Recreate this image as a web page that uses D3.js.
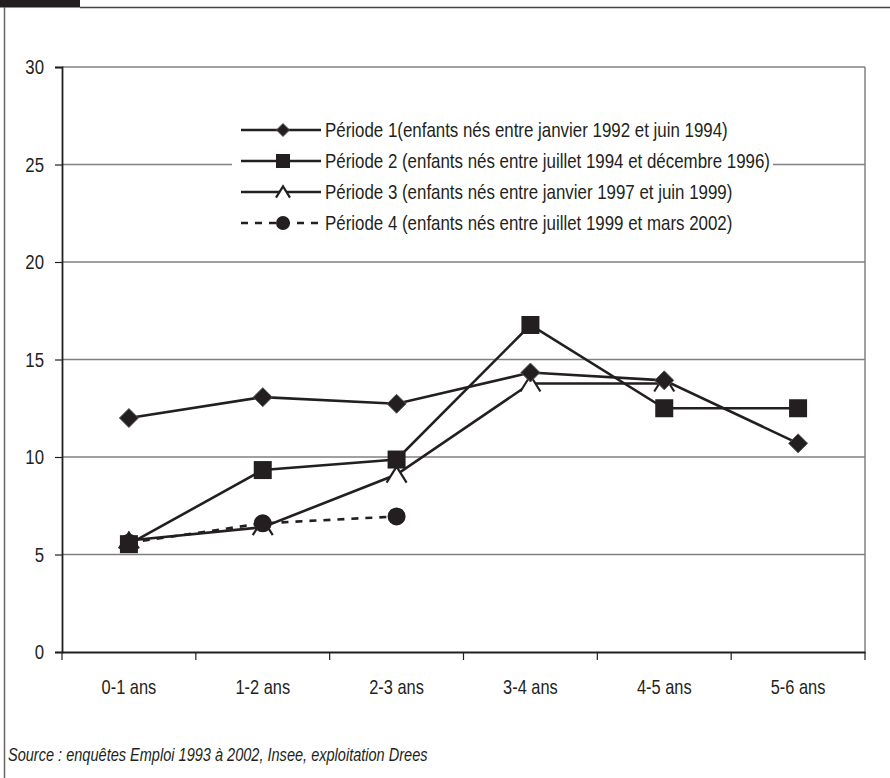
<!DOCTYPE html>
<html>
<head>
<meta charset="utf-8">
<script src="https://cdn.jsdelivr.net/npm/d3@7"></script>
<style>
  html, body { margin: 0; padding: 0; background: #fff; }
  svg { display: block; }
  text { font-family: "Liberation Sans", Arial, sans-serif; fill: #231f20; }
</style>
</head>
<body>
<svg id="chart" width="890" height="778"></svg>
<script>
// ---- Data ----
const categories = ["0-1 ans", "1-2 ans", "2-3 ans", "3-4 ans", "4-5 ans", "5-6 ans"];
const seriesNames = [
  "Période 1(enfants nés entre janvier 1992 et juin 1994)",
  "Période 2 (enfants nés entre juillet 1994 et décembre 1996)",
  "Période 3 (enfants nés entre janvier 1997 et juin 1999)",
  "Période 4 (enfants nés entre juillet 1999 et mars 2002)"
];
const periode1 = [12.0, 13.07, 12.73, 14.33, 13.93, 10.7];
const periode2 = [5.53, 9.33, 9.87, 16.77, 12.5, 12.5];
const periode3 = [5.72, 6.4, 9.1, 13.77, 13.77, null];
const periode4 = [5.6, 6.6, 6.95, null, null, null];
const yTicks = [0, 5, 10, 15, 20, 25, 30];
const sourceText = "Source : enquêtes Emploi 1993 à 2002, Insee, exploitation Drees";

const ink = "#231f20";
const K = 0.8; // narrow-font emulation for axis labels
const svg = d3.select("#chart");

function narrow(sel, k) {
  sel.each(function () {
    const t = d3.select(this);
    const tx = +t.attr("x") || 0, ty = +t.attr("y") || 0;
    t.attr("x", 0).attr("y", 0).attr("transform", `translate(${tx},${ty}) scale(${k},1)`);
  });
}

// Frame
svg.append("rect").attr("x", 0).attr("y", 0).attr("width", 80).attr("height", 7.5).attr("fill", ink);
svg.append("line").attr("x1", 80).attr("x2", 890).attr("y1", 7.5).attr("y2", 7.5).attr("stroke", "#444").attr("stroke-width", 1.5);
svg.append("line").attr("x1", 4.5).attr("x2", 4.5).attr("y1", 7).attr("y2", 778).attr("stroke", "#666").attr("stroke-width", 1.5);

// Scales
const x = d3.scaleBand().domain(categories).range([62, 865]);
const y = d3.scaleLinear().domain([0, 30]).range([652, 67]);

// Gridlines
svg.append("g").selectAll("line").data(yTicks.filter(d => d > 0)).join("line")
  .attr("x1", 62).attr("x2", 865)
  .attr("y1", d => y(d)).attr("y2", d => y(d))
  .attr("stroke", "#808080").attr("stroke-width", 1.5);
svg.append("line").attr("x1", 865).attr("x2", 865).attr("y1", y(30)).attr("y2", y(0))
  .attr("stroke", "#808080").attr("stroke-width", 1.5);

// Y axis
const yAxis = svg.append("g").attr("transform", "translate(62,0)")
  .call(d3.axisLeft(y).tickValues(yTicks).tickSize(7).tickPadding(11).tickFormat(d3.format("d")));
yAxis.select(".domain").attr("stroke", ink).attr("stroke-width", 1.8);
yAxis.selectAll(".tick line").attr("stroke", ink).attr("stroke-width", 1.2);
yAxis.selectAll(".tick text").attr("font-size", 21).attr("font-family", null).attr("fill", ink).call(narrow, K);

// X axis
const xAxis = svg.append("g").attr("transform", `translate(0,${y(0)})`)
  .call(d3.axisBottom(x).tickSize(0).tickPadding(27));
xAxis.select(".domain").attr("stroke", ink).attr("stroke-width", 1.8);
xAxis.selectAll(".tick text").attr("font-size", 20.5).attr("font-family", null).attr("fill", ink).call(narrow, K);
const bounds = categories.map(c => x(c)).concat([x(categories[categories.length - 1]) + x.bandwidth()]);
xAxis.selectAll(".bt").data(bounds).join("line").attr("class", "bt")
  .attr("x1", d => d).attr("x2", d => d).attr("y1", 0).attr("y2", 8)
  .attr("stroke", ink).attr("stroke-width", 1.2);

// Legend background (covers gridline)
const legend = svg.append("g");
legend.append("rect").attr("x", 232).attr("y", 113).attr("width", 541).attr("height", 127).attr("fill", "#fff");

// Markers
function drawMarker(g, type, cx, cy, s) {
  if (type === "diamond") {
    g.append("path").attr("d", `M${cx},${cy - s}L${cx + s},${cy}L${cx},${cy + s}L${cx - s},${cy}Z`)
      .attr("fill", ink).attr("stroke", "#555").attr("stroke-width", 1);
  } else if (type === "square") {
    g.append("rect").attr("x", cx - s).attr("y", cy - s).attr("width", 2 * s).attr("height", 2 * s).attr("fill", ink);
  } else if (type === "triangle") {
    const h = s * 0.8;
    g.append("path").attr("d", `M${cx - s},${cy + h}L${cx},${cy - h}L${cx + s},${cy + h}Z`).attr("fill", "#fff").attr("stroke", "none");
    g.append("path").attr("d", `M${cx - s},${cy + h}L${cx},${cy - h}L${cx + s},${cy + h}`)
      .attr("fill", "none").attr("stroke", ink).attr("stroke-width", 2.2);
  } else if (type === "circle") {
    g.append("circle").attr("cx", cx).attr("cy", cy).attr("r", s).attr("fill", ink);
  }
}

const series = [
  { name: seriesNames[0], values: periode1, marker: "diamond", dash: null, size: 9.5, lsize: 6.5 },
  { name: seriesNames[1], values: periode2, marker: "square", dash: null, size: 9, lsize: 7 },
  { name: seriesNames[2], values: periode3, marker: "triangle", dash: null, size: 10, lsize: 7 },
  { name: seriesNames[3], values: periode4, marker: "circle", dash: "7,7", size: 9, lsize: 7 }
];

const line = d3.line()
  .defined(d => d.v != null)
  .x(d => x(d.c) + x.bandwidth() / 2)
  .y(d => y(d.v));

const linesG = svg.append("g");
series.forEach(s => {
  const pts = categories.map((c, i) => ({ c, v: s.values[i] }));
  linesG.append("path").datum(pts).attr("d", line)
    .attr("fill", "none").attr("stroke", ink).attr("stroke-width", 2.6)
    .attr("stroke-dasharray", s.dash);
});

const markersG = svg.append("g");
[2, 0, 1, 3].forEach(k => {
  const s = series[k];
  categories.forEach((c, i) => {
    const v = s.values[i];
    if (v == null) return;
    drawMarker(markersG, s.marker, x(c) + x.bandwidth() / 2, y(v), s.size);
  });
});

// Legend rows
const legendY = [130, 161, 192, 223];
const legendTexts = [];
series.forEach((s, i) => {
  const ly = legendY[i];
  legend.append("line").attr("x1", 241).attr("x2", 321).attr("y1", ly).attr("y2", ly)
    .attr("stroke", ink).attr("stroke-width", 2.4).attr("stroke-dasharray", s.dash);
  drawMarker(legend, s.marker, 283, ly, s.lsize);
  legendTexts.push(legend.append("text").attr("x", 325).attr("y", ly + 7).attr("font-size", 20).text(s.name));
});
// condense legend text so the first row spans the same width as in the original
const kLeg = 403 / legendTexts[0].node().getComputedTextLength();
legendTexts.forEach(t => t.call(narrow, kLeg));

// Source
const src = svg.append("text").attr("x", 8).attr("y", 761).attr("font-size", 17.5).attr("font-style", "italic").text(sourceText);
src.call(narrow, 420 / src.node().getComputedTextLength());
</script>
</body>
</html>
